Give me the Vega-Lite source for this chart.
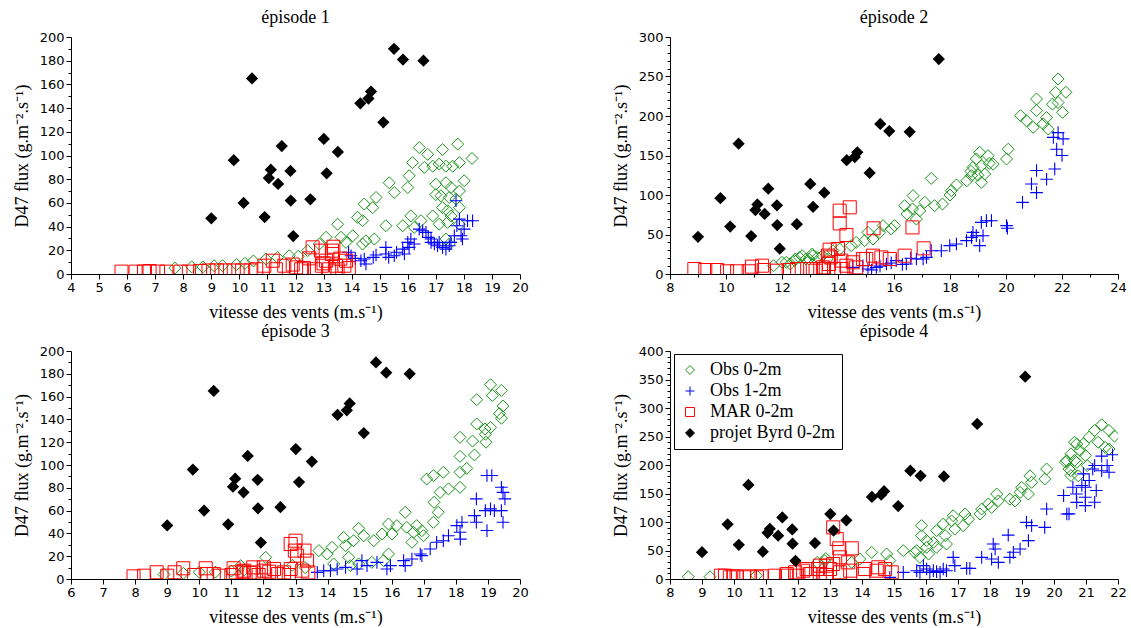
{
"$schema":"https://vega.github.io/schema/vega-lite/v6.json",
"background":"white",
"padding":{"left":13,"top":9,"right":0,"bottom":0},
"columns":2,
"bounds":"flush",
"spacing":{"row":77,"column":150},
"datasets":{
"byrd":[
{"s":"projet Byrd 0-2m","x":9.0,"y":47},{"s":"projet Byrd 0-2m","x":9.8,"y":96},{"s":"projet Byrd 0-2m","x":10.45,"y":165},{"s":"projet Byrd 0-2m","x":10.15,"y":60},{"s":"projet Byrd 0-2m","x":10.9,"y":48},{"s":"projet Byrd 0-2m","x":11.05,"y":81},{"s":"projet Byrd 0-2m","x":11.12,"y":88},{"s":"projet Byrd 0-2m","x":11.38,"y":76},{"s":"projet Byrd 0-2m","x":11.51,"y":108},{"s":"projet Byrd 0-2m","x":11.82,"y":87},{"s":"projet Byrd 0-2m","x":11.83,"y":62},{"s":"projet Byrd 0-2m","x":11.92,"y":32},{"s":"projet Byrd 0-2m","x":12.53,"y":63},{"s":"projet Byrd 0-2m","x":13.01,"y":114},{"s":"projet Byrd 0-2m","x":13.11,"y":85},{"s":"projet Byrd 0-2m","x":13.51,"y":103},{"s":"projet Byrd 0-2m","x":14.31,"y":144},{"s":"projet Byrd 0-2m","x":14.6,"y":148},{"s":"projet Byrd 0-2m","x":14.69,"y":154},{"s":"projet Byrd 0-2m","x":15.13,"y":128},{"s":"projet Byrd 0-2m","x":15.51,"y":190},{"s":"projet Byrd 0-2m","x":15.83,"y":181},{"s":"projet Byrd 0-2m","x":16.56,"y":180},{"s":"projet Byrd 0-2m","x":17.6,"y":272},{"s":"projet Byrd 0-2m","x":19.1,"y":355}
],
"pts":[
{"ep":1,"s":"Obs 0-2m","x":7.7,"y":5},{"ep":1,"s":"Obs 0-2m","x":8.3,"y":6},{"ep":1,"s":"Obs 0-2m","x":8.7,"y":6},{"ep":1,"s":"Obs 0-2m","x":9.1,"y":7},{"ep":1,"s":"Obs 0-2m","x":9.4,"y":7},{"ep":1,"s":"Obs 0-2m","x":9.9,"y":8},{"ep":1,"s":"Obs 0-2m","x":10.2,"y":9},{"ep":1,"s":"Obs 0-2m","x":10.5,"y":11},{"ep":1,"s":"Obs 0-2m","x":10.95,"y":12.6},{"ep":1,"s":"Obs 0-2m","x":11.36,"y":14},{"ep":1,"s":"Obs 0-2m","x":11.78,"y":15.4},{"ep":1,"s":"Obs 0-2m","x":12.1,"y":15},{"ep":1,"s":"Obs 0-2m","x":12.43,"y":19.7},{"ep":1,"s":"Obs 0-2m","x":12.85,"y":25.3},{"ep":1,"s":"Obs 0-2m","x":13.09,"y":31},{"ep":1,"s":"Obs 0-2m","x":13.5,"y":42},{"ep":1,"s":"Obs 0-2m","x":13.62,"y":31},{"ep":1,"s":"Obs 0-2m","x":13.8,"y":26.7},{"ep":1,"s":"Obs 0-2m","x":14.04,"y":32.3},{"ep":1,"s":"Obs 0-2m","x":14.21,"y":47.8},{"ep":1,"s":"Obs 0-2m","x":14.39,"y":45},{"ep":1,"s":"Obs 0-2m","x":14.39,"y":25.3},{"ep":1,"s":"Obs 0-2m","x":14.45,"y":59},{"ep":1,"s":"Obs 0-2m","x":14.51,"y":28},{"ep":1,"s":"Obs 0-2m","x":14.75,"y":56},{"ep":1,"s":"Obs 0-2m","x":14.81,"y":29.5},{"ep":1,"s":"Obs 0-2m","x":14.87,"y":64.6},{"ep":1,"s":"Obs 0-2m","x":15.22,"y":40.7},{"ep":1,"s":"Obs 0-2m","x":15.34,"y":77},{"ep":1,"s":"Obs 0-2m","x":15.52,"y":68.8},{"ep":1,"s":"Obs 0-2m","x":15.82,"y":40.7},{"ep":1,"s":"Obs 0-2m","x":16.0,"y":73},{"ep":1,"s":"Obs 0-2m","x":16.05,"y":82.9},{"ep":1,"s":"Obs 0-2m","x":16.11,"y":49},{"ep":1,"s":"Obs 0-2m","x":16.17,"y":94},{"ep":1,"s":"Obs 0-2m","x":16.23,"y":39.3},{"ep":1,"s":"Obs 0-2m","x":16.41,"y":106.7},{"ep":1,"s":"Obs 0-2m","x":16.47,"y":45},{"ep":1,"s":"Obs 0-2m","x":16.59,"y":90},{"ep":1,"s":"Obs 0-2m","x":16.71,"y":101},{"ep":1,"s":"Obs 0-2m","x":16.89,"y":91},{"ep":1,"s":"Obs 0-2m","x":16.89,"y":49},{"ep":1,"s":"Obs 0-2m","x":17.0,"y":75.8},{"ep":1,"s":"Obs 0-2m","x":17.0,"y":67},{"ep":1,"s":"Obs 0-2m","x":17.12,"y":92.7},{"ep":1,"s":"Obs 0-2m","x":17.12,"y":42},{"ep":1,"s":"Obs 0-2m","x":17.18,"y":66},{"ep":1,"s":"Obs 0-2m","x":17.24,"y":105},{"ep":1,"s":"Obs 0-2m","x":17.24,"y":56},{"ep":1,"s":"Obs 0-2m","x":17.36,"y":91},{"ep":1,"s":"Obs 0-2m","x":17.36,"y":77},{"ep":1,"s":"Obs 0-2m","x":17.36,"y":29.5},{"ep":1,"s":"Obs 0-2m","x":17.42,"y":53.4},{"ep":1,"s":"Obs 0-2m","x":17.42,"y":43.5},{"ep":1,"s":"Obs 0-2m","x":17.48,"y":64.6},{"ep":1,"s":"Obs 0-2m","x":17.48,"y":25.3},{"ep":1,"s":"Obs 0-2m","x":17.54,"y":73},{"ep":1,"s":"Obs 0-2m","x":17.54,"y":49},{"ep":1,"s":"Obs 0-2m","x":17.6,"y":91},{"ep":1,"s":"Obs 0-2m","x":17.72,"y":63.2},{"ep":1,"s":"Obs 0-2m","x":17.78,"y":109.6},{"ep":1,"s":"Obs 0-2m","x":17.84,"y":94},{"ep":1,"s":"Obs 0-2m","x":17.84,"y":70},{"ep":1,"s":"Obs 0-2m","x":17.84,"y":56},{"ep":1,"s":"Obs 0-2m","x":17.84,"y":42},{"ep":1,"s":"Obs 0-2m","x":18.01,"y":78.7},{"ep":1,"s":"Obs 0-2m","x":18.29,"y":97.5},
{"ep":1,"s":"Obs 1-2m","x":13.89,"y":18.3},{"ep":1,"s":"Obs 1-2m","x":13.98,"y":15.4},{"ep":1,"s":"Obs 1-2m","x":14.13,"y":13.2},{"ep":1,"s":"Obs 1-2m","x":14.33,"y":11.2},{"ep":1,"s":"Obs 1-2m","x":14.45,"y":12.6},{"ep":1,"s":"Obs 1-2m","x":14.51,"y":8.4},{"ep":1,"s":"Obs 1-2m","x":14.77,"y":14},{"ep":1,"s":"Obs 1-2m","x":14.87,"y":16},{"ep":1,"s":"Obs 1-2m","x":15.22,"y":22.5},{"ep":1,"s":"Obs 1-2m","x":15.22,"y":16.9},{"ep":1,"s":"Obs 1-2m","x":15.32,"y":14},{"ep":1,"s":"Obs 1-2m","x":15.52,"y":15.4},{"ep":1,"s":"Obs 1-2m","x":15.6,"y":18.3},{"ep":1,"s":"Obs 1-2m","x":15.82,"y":21},{"ep":1,"s":"Obs 1-2m","x":15.88,"y":16.9},{"ep":1,"s":"Obs 1-2m","x":16.0,"y":26.7},{"ep":1,"s":"Obs 1-2m","x":16.11,"y":29.5},{"ep":1,"s":"Obs 1-2m","x":16.05,"y":22.5},{"ep":1,"s":"Obs 1-2m","x":16.23,"y":25.3},{"ep":1,"s":"Obs 1-2m","x":16.41,"y":37.9},{"ep":1,"s":"Obs 1-2m","x":16.53,"y":36.5},{"ep":1,"s":"Obs 1-2m","x":16.65,"y":35.1},{"ep":1,"s":"Obs 1-2m","x":16.73,"y":30.9},{"ep":1,"s":"Obs 1-2m","x":16.83,"y":29.5},{"ep":1,"s":"Obs 1-2m","x":16.83,"y":26.7},{"ep":1,"s":"Obs 1-2m","x":16.95,"y":25.3},{"ep":1,"s":"Obs 1-2m","x":17.06,"y":23.9},{"ep":1,"s":"Obs 1-2m","x":17.12,"y":26.7},{"ep":1,"s":"Obs 1-2m","x":17.24,"y":22.5},{"ep":1,"s":"Obs 1-2m","x":17.36,"y":21},{"ep":1,"s":"Obs 1-2m","x":17.48,"y":23.9},{"ep":1,"s":"Obs 1-2m","x":17.54,"y":26.7},{"ep":1,"s":"Obs 1-2m","x":17.66,"y":32.3},{"ep":1,"s":"Obs 1-2m","x":17.72,"y":61.8},{"ep":1,"s":"Obs 1-2m","x":17.75,"y":40.7},{"ep":1,"s":"Obs 1-2m","x":17.84,"y":46.3},{"ep":1,"s":"Obs 1-2m","x":17.9,"y":32.3},{"ep":1,"s":"Obs 1-2m","x":17.95,"y":29.5},{"ep":1,"s":"Obs 1-2m","x":18.01,"y":37.9},{"ep":1,"s":"Obs 1-2m","x":18.13,"y":44.9},{"ep":1,"s":"Obs 1-2m","x":18.31,"y":44.9},
{"ep":1,"s":"MAR 0-2m","x":5.8,"y":2},{"ep":1,"s":"MAR 0-2m","x":6.3,"y":2},{"ep":1,"s":"MAR 0-2m","x":6.6,"y":2},{"ep":1,"s":"MAR 0-2m","x":6.8,"y":2.5},{"ep":1,"s":"MAR 0-2m","x":7.1,"y":2},{"ep":1,"s":"MAR 0-2m","x":7.4,"y":2},{"ep":1,"s":"MAR 0-2m","x":7.9,"y":2},{"ep":1,"s":"MAR 0-2m","x":8.2,"y":2},{"ep":1,"s":"MAR 0-2m","x":8.6,"y":2.5},{"ep":1,"s":"MAR 0-2m","x":8.9,"y":3},{"ep":1,"s":"MAR 0-2m","x":9.2,"y":3},{"ep":1,"s":"MAR 0-2m","x":9.5,"y":3},{"ep":1,"s":"MAR 0-2m","x":9.8,"y":3},{"ep":1,"s":"MAR 0-2m","x":10.1,"y":3},{"ep":1,"s":"MAR 0-2m","x":10.4,"y":3},{"ep":1,"s":"MAR 0-2m","x":10.6,"y":4},{"ep":1,"s":"MAR 0-2m","x":10.89,"y":7},{"ep":1,"s":"MAR 0-2m","x":11.19,"y":11.2},{"ep":1,"s":"MAR 0-2m","x":11.3,"y":4},{"ep":1,"s":"MAR 0-2m","x":11.6,"y":7},{"ep":1,"s":"MAR 0-2m","x":11.9,"y":8},{"ep":1,"s":"MAR 0-2m","x":12.02,"y":5.6},{"ep":1,"s":"MAR 0-2m","x":12.3,"y":5},{"ep":1,"s":"MAR 0-2m","x":12.49,"y":13.2},{"ep":1,"s":"MAR 0-2m","x":12.61,"y":22.5},{"ep":1,"s":"MAR 0-2m","x":12.91,"y":19.7},{"ep":1,"s":"MAR 0-2m","x":12.94,"y":7},{"ep":1,"s":"MAR 0-2m","x":13.0,"y":9},{"ep":1,"s":"MAR 0-2m","x":13.09,"y":11.2},{"ep":1,"s":"MAR 0-2m","x":13.3,"y":19.7},{"ep":1,"s":"MAR 0-2m","x":13.35,"y":23},{"ep":1,"s":"MAR 0-2m","x":13.3,"y":16.9},{"ep":1,"s":"MAR 0-2m","x":13.44,"y":7},{"ep":1,"s":"MAR 0-2m","x":13.5,"y":4},{"ep":1,"s":"MAR 0-2m","x":13.74,"y":7},{"ep":1,"s":"MAR 0-2m","x":13.8,"y":11.2},{"ep":1,"s":"MAR 0-2m","x":13.9,"y":5},{"ep":1,"s":"MAR 0-2m","x":13.6,"y":13},{"ep":1,"s":"MAR 0-2m","x":12.2,"y":4},{"ep":1,"s":"MAR 0-2m","x":12.7,"y":4},{"ep":1,"s":"MAR 0-2m","x":13.2,"y":4},
{"ep":2,"s":"Obs 0-2m","x":11.7,"y":10.5},{"ep":2,"s":"Obs 0-2m","x":12.0,"y":14.8},{"ep":2,"s":"Obs 0-2m","x":12.15,"y":14.8},{"ep":2,"s":"Obs 0-2m","x":12.3,"y":12.7},{"ep":2,"s":"Obs 0-2m","x":12.45,"y":16.9},{"ep":2,"s":"Obs 0-2m","x":12.48,"y":19},{"ep":2,"s":"Obs 0-2m","x":12.63,"y":21},{"ep":2,"s":"Obs 0-2m","x":12.72,"y":23.2},{"ep":2,"s":"Obs 0-2m","x":12.86,"y":19},{"ep":2,"s":"Obs 0-2m","x":12.96,"y":19},{"ep":2,"s":"Obs 0-2m","x":13.08,"y":25.3},{"ep":2,"s":"Obs 0-2m","x":13.1,"y":23.2},{"ep":2,"s":"Obs 0-2m","x":13.26,"y":21},{"ep":2,"s":"Obs 0-2m","x":13.44,"y":23.2},{"ep":2,"s":"Obs 0-2m","x":13.62,"y":19},{"ep":2,"s":"Obs 0-2m","x":13.82,"y":29.5},{"ep":2,"s":"Obs 0-2m","x":14.06,"y":31.6},{"ep":2,"s":"Obs 0-2m","x":14.47,"y":35.9},{"ep":2,"s":"Obs 0-2m","x":14.65,"y":40},{"ep":2,"s":"Obs 0-2m","x":14.95,"y":42.2},{"ep":2,"s":"Obs 0-2m","x":15.07,"y":52.7},{"ep":2,"s":"Obs 0-2m","x":15.25,"y":44.3},{"ep":2,"s":"Obs 0-2m","x":15.49,"y":52.7},{"ep":2,"s":"Obs 0-2m","x":15.61,"y":61.2},{"ep":2,"s":"Obs 0-2m","x":15.9,"y":57},{"ep":2,"s":"Obs 0-2m","x":16.02,"y":61.2},{"ep":2,"s":"Obs 0-2m","x":16.38,"y":86.5},{"ep":2,"s":"Obs 0-2m","x":16.46,"y":75.9},{"ep":2,"s":"Obs 0-2m","x":16.66,"y":82.3},{"ep":2,"s":"Obs 0-2m","x":16.68,"y":99.2},{"ep":2,"s":"Obs 0-2m","x":16.8,"y":69.6},{"ep":2,"s":"Obs 0-2m","x":16.92,"y":80},{"ep":2,"s":"Obs 0-2m","x":17.1,"y":90.7},{"ep":2,"s":"Obs 0-2m","x":17.33,"y":121},{"ep":2,"s":"Obs 0-2m","x":17.45,"y":86.5},{"ep":2,"s":"Obs 0-2m","x":17.73,"y":88.6},{"ep":2,"s":"Obs 0-2m","x":18.0,"y":100},{"ep":2,"s":"Obs 0-2m","x":18.05,"y":105.5},{"ep":2,"s":"Obs 0-2m","x":18.23,"y":112.7},{"ep":2,"s":"Obs 0-2m","x":18.6,"y":118},{"ep":2,"s":"Obs 0-2m","x":18.75,"y":130},{"ep":2,"s":"Obs 0-2m","x":18.77,"y":124.5},{"ep":2,"s":"Obs 0-2m","x":18.82,"y":135},{"ep":2,"s":"Obs 0-2m","x":18.94,"y":145.6},{"ep":2,"s":"Obs 0-2m","x":19.0,"y":125},{"ep":2,"s":"Obs 0-2m","x":19.06,"y":154},{"ep":2,"s":"Obs 0-2m","x":19.12,"y":137},{"ep":2,"s":"Obs 0-2m","x":19.12,"y":116},{"ep":2,"s":"Obs 0-2m","x":19.24,"y":126.6},{"ep":2,"s":"Obs 0-2m","x":19.36,"y":149.8},{"ep":2,"s":"Obs 0-2m","x":19.4,"y":140},{"ep":2,"s":"Obs 0-2m","x":19.54,"y":139},{"ep":2,"s":"Obs 0-2m","x":20.02,"y":145.6},{"ep":2,"s":"Obs 0-2m","x":20.08,"y":158},{"ep":2,"s":"Obs 0-2m","x":20.52,"y":200.4},{"ep":2,"s":"Obs 0-2m","x":20.73,"y":194},{"ep":2,"s":"Obs 0-2m","x":20.97,"y":185.7},{"ep":2,"s":"Obs 0-2m","x":21.09,"y":221.5},{"ep":2,"s":"Obs 0-2m","x":21.09,"y":206.8},{"ep":2,"s":"Obs 0-2m","x":21.33,"y":190},{"ep":2,"s":"Obs 0-2m","x":21.45,"y":198},{"ep":2,"s":"Obs 0-2m","x":21.51,"y":183.5},{"ep":2,"s":"Obs 0-2m","x":21.66,"y":215},{"ep":2,"s":"Obs 0-2m","x":21.77,"y":230},{"ep":2,"s":"Obs 0-2m","x":21.86,"y":246.8},{"ep":2,"s":"Obs 0-2m","x":21.86,"y":217},{"ep":2,"s":"Obs 0-2m","x":22.02,"y":204.6},{"ep":2,"s":"Obs 0-2m","x":22.14,"y":230},
{"ep":2,"s":"Obs 1-2m","x":14.53,"y":8.4},{"ep":2,"s":"Obs 1-2m","x":14.89,"y":10.5},{"ep":2,"s":"Obs 1-2m","x":15.07,"y":6.3},{"ep":2,"s":"Obs 1-2m","x":15.2,"y":5},{"ep":2,"s":"Obs 1-2m","x":15.37,"y":8.4},{"ep":2,"s":"Obs 1-2m","x":15.5,"y":10},{"ep":2,"s":"Obs 1-2m","x":15.73,"y":12.7},{"ep":2,"s":"Obs 1-2m","x":15.9,"y":14},{"ep":2,"s":"Obs 1-2m","x":16.08,"y":16.9},{"ep":2,"s":"Obs 1-2m","x":16.3,"y":12},{"ep":2,"s":"Obs 1-2m","x":16.44,"y":12.7},{"ep":2,"s":"Obs 1-2m","x":16.6,"y":20},{"ep":2,"s":"Obs 1-2m","x":16.8,"y":19},{"ep":2,"s":"Obs 1-2m","x":17.04,"y":19},{"ep":2,"s":"Obs 1-2m","x":17.16,"y":21},{"ep":2,"s":"Obs 1-2m","x":17.33,"y":29.5},{"ep":2,"s":"Obs 1-2m","x":17.69,"y":29.5},{"ep":2,"s":"Obs 1-2m","x":17.99,"y":35.9},{"ep":2,"s":"Obs 1-2m","x":18.23,"y":38},{"ep":2,"s":"Obs 1-2m","x":18.59,"y":42.2},{"ep":2,"s":"Obs 1-2m","x":18.77,"y":46.4},{"ep":2,"s":"Obs 1-2m","x":18.82,"y":52.7},{"ep":2,"s":"Obs 1-2m","x":18.94,"y":48.5},{"ep":2,"s":"Obs 1-2m","x":19.06,"y":35.9},{"ep":2,"s":"Obs 1-2m","x":19.12,"y":65.4},{"ep":2,"s":"Obs 1-2m","x":19.18,"y":48.5},{"ep":2,"s":"Obs 1-2m","x":19.3,"y":67.5},{"ep":2,"s":"Obs 1-2m","x":19.48,"y":67.5},{"ep":2,"s":"Obs 1-2m","x":20.02,"y":61.2},{"ep":2,"s":"Obs 1-2m","x":20.05,"y":58},{"ep":2,"s":"Obs 1-2m","x":20.59,"y":90.7},{"ep":2,"s":"Obs 1-2m","x":20.91,"y":114},{"ep":2,"s":"Obs 1-2m","x":21.09,"y":103},{"ep":2,"s":"Obs 1-2m","x":21.09,"y":131},{"ep":2,"s":"Obs 1-2m","x":21.45,"y":120},{"ep":2,"s":"Obs 1-2m","x":21.74,"y":133},{"ep":2,"s":"Obs 1-2m","x":21.69,"y":173},{"ep":2,"s":"Obs 1-2m","x":21.81,"y":158},{"ep":2,"s":"Obs 1-2m","x":21.86,"y":179},{"ep":2,"s":"Obs 1-2m","x":22.0,"y":150},{"ep":2,"s":"Obs 1-2m","x":22.04,"y":171},
{"ep":2,"s":"MAR 0-2m","x":8.87,"y":6.3},{"ep":2,"s":"MAR 0-2m","x":9.26,"y":5},{"ep":2,"s":"MAR 0-2m","x":9.68,"y":5},{"ep":2,"s":"MAR 0-2m","x":10.04,"y":3.4},{"ep":2,"s":"MAR 0-2m","x":10.4,"y":3.4},{"ep":2,"s":"MAR 0-2m","x":10.81,"y":3.4},{"ep":2,"s":"MAR 0-2m","x":10.93,"y":9.3},{"ep":2,"s":"MAR 0-2m","x":11.29,"y":10.5},{"ep":2,"s":"MAR 0-2m","x":11.35,"y":5},{"ep":2,"s":"MAR 0-2m","x":11.82,"y":4.2},{"ep":2,"s":"MAR 0-2m","x":12.24,"y":5},{"ep":2,"s":"MAR 0-2m","x":12.54,"y":6.3},{"ep":2,"s":"MAR 0-2m","x":12.9,"y":6.3},{"ep":2,"s":"MAR 0-2m","x":13.1,"y":6.3},{"ep":2,"s":"MAR 0-2m","x":13.2,"y":4.2},{"ep":2,"s":"MAR 0-2m","x":13.46,"y":8.4},{"ep":2,"s":"MAR 0-2m","x":13.5,"y":6.3},{"ep":2,"s":"MAR 0-2m","x":13.64,"y":23.2},{"ep":2,"s":"MAR 0-2m","x":13.68,"y":12.7},{"ep":2,"s":"MAR 0-2m","x":13.7,"y":30.8},{"ep":2,"s":"MAR 0-2m","x":13.74,"y":21},{"ep":2,"s":"MAR 0-2m","x":13.86,"y":6.3},{"ep":2,"s":"MAR 0-2m","x":14.0,"y":31.6},{"ep":2,"s":"MAR 0-2m","x":14.06,"y":80.2},{"ep":2,"s":"MAR 0-2m","x":14.06,"y":64},{"ep":2,"s":"MAR 0-2m","x":14.12,"y":16.9},{"ep":2,"s":"MAR 0-2m","x":14.12,"y":6.3},{"ep":2,"s":"MAR 0-2m","x":14.3,"y":49.4},{"ep":2,"s":"MAR 0-2m","x":14.3,"y":10.5},{"ep":2,"s":"MAR 0-2m","x":14.42,"y":84.4},{"ep":2,"s":"MAR 0-2m","x":14.53,"y":14.8},{"ep":2,"s":"MAR 0-2m","x":14.65,"y":8.4},{"ep":2,"s":"MAR 0-2m","x":14.89,"y":19},{"ep":2,"s":"MAR 0-2m","x":15.01,"y":19},{"ep":2,"s":"MAR 0-2m","x":15.25,"y":23.2},{"ep":2,"s":"MAR 0-2m","x":15.27,"y":57.8},{"ep":2,"s":"MAR 0-2m","x":15.55,"y":21},{"ep":2,"s":"MAR 0-2m","x":15.85,"y":19},{"ep":2,"s":"MAR 0-2m","x":16.38,"y":23.2},{"ep":2,"s":"MAR 0-2m","x":16.66,"y":59},{"ep":2,"s":"MAR 0-2m","x":17.06,"y":32.5},
{"ep":3,"s":"Obs 0-2m","x":8.9,"y":4},{"ep":3,"s":"Obs 0-2m","x":9.5,"y":5},{"ep":3,"s":"Obs 0-2m","x":10.0,"y":6},{"ep":3,"s":"Obs 0-2m","x":10.5,"y":6},{"ep":3,"s":"Obs 0-2m","x":11.0,"y":7},{"ep":3,"s":"Obs 0-2m","x":11.29,"y":11.7},{"ep":3,"s":"Obs 0-2m","x":11.4,"y":8},{"ep":3,"s":"Obs 0-2m","x":12.07,"y":19},{"ep":3,"s":"Obs 0-2m","x":12.9,"y":12},{"ep":3,"s":"Obs 0-2m","x":13.3,"y":10},{"ep":3,"s":"Obs 0-2m","x":13.73,"y":24.9},{"ep":3,"s":"Obs 0-2m","x":13.99,"y":21.9},{"ep":3,"s":"Obs 0-2m","x":14.14,"y":27.8},{"ep":3,"s":"Obs 0-2m","x":14.19,"y":13.2},{"ep":3,"s":"Obs 0-2m","x":14.5,"y":36.5},{"ep":3,"s":"Obs 0-2m","x":14.56,"y":29.2},{"ep":3,"s":"Obs 0-2m","x":14.66,"y":19},{"ep":3,"s":"Obs 0-2m","x":14.71,"y":11.7},{"ep":3,"s":"Obs 0-2m","x":14.81,"y":33.6},{"ep":3,"s":"Obs 0-2m","x":14.97,"y":44.4},{"ep":3,"s":"Obs 0-2m","x":14.97,"y":13.2},{"ep":3,"s":"Obs 0-2m","x":15.13,"y":38},{"ep":3,"s":"Obs 0-2m","x":15.38,"y":14.6},{"ep":3,"s":"Obs 0-2m","x":15.44,"y":33.6},{"ep":3,"s":"Obs 0-2m","x":15.7,"y":39.5},{"ep":3,"s":"Obs 0-2m","x":15.75,"y":16.1},{"ep":3,"s":"Obs 0-2m","x":15.9,"y":48.2},{"ep":3,"s":"Obs 0-2m","x":15.9,"y":21.9},{"ep":3,"s":"Obs 0-2m","x":16.01,"y":39.5},{"ep":3,"s":"Obs 0-2m","x":16.16,"y":46.8},{"ep":3,"s":"Obs 0-2m","x":16.42,"y":58.5},{"ep":3,"s":"Obs 0-2m","x":16.47,"y":45.3},{"ep":3,"s":"Obs 0-2m","x":16.63,"y":32.2},{"ep":3,"s":"Obs 0-2m","x":16.68,"y":41},{"ep":3,"s":"Obs 0-2m","x":16.78,"y":46.8},{"ep":3,"s":"Obs 0-2m","x":16.94,"y":42.4},{"ep":3,"s":"Obs 0-2m","x":16.99,"y":38},{"ep":3,"s":"Obs 0-2m","x":17.09,"y":87.7},{"ep":3,"s":"Obs 0-2m","x":17.3,"y":90.6},{"ep":3,"s":"Obs 0-2m","x":17.3,"y":49.7},{"ep":3,"s":"Obs 0-2m","x":17.32,"y":67.3},{"ep":3,"s":"Obs 0-2m","x":17.45,"y":58.5},{"ep":3,"s":"Obs 0-2m","x":17.51,"y":76},{"ep":3,"s":"Obs 0-2m","x":17.61,"y":93.6},{"ep":3,"s":"Obs 0-2m","x":17.77,"y":79},{"ep":3,"s":"Obs 0-2m","x":18.13,"y":124.3},{"ep":3,"s":"Obs 0-2m","x":18.13,"y":107.6},{"ep":3,"s":"Obs 0-2m","x":18.13,"y":93.6},{"ep":3,"s":"Obs 0-2m","x":18.13,"y":80.4},{"ep":3,"s":"Obs 0-2m","x":18.34,"y":97},{"ep":3,"s":"Obs 0-2m","x":18.52,"y":121},{"ep":3,"s":"Obs 0-2m","x":18.58,"y":108.8},{"ep":3,"s":"Obs 0-2m","x":18.65,"y":157.3},{"ep":3,"s":"Obs 0-2m","x":18.65,"y":136},{"ep":3,"s":"Obs 0-2m","x":18.91,"y":131.6},{"ep":3,"s":"Obs 0-2m","x":18.92,"y":127},{"ep":3,"s":"Obs 0-2m","x":18.94,"y":120},{"ep":3,"s":"Obs 0-2m","x":19.08,"y":170.4},{"ep":3,"s":"Obs 0-2m","x":19.08,"y":133},{"ep":3,"s":"Obs 0-2m","x":19.14,"y":161},{"ep":3,"s":"Obs 0-2m","x":19.36,"y":145},{"ep":3,"s":"Obs 0-2m","x":19.42,"y":165.4},{"ep":3,"s":"Obs 0-2m","x":19.42,"y":141},{"ep":3,"s":"Obs 0-2m","x":19.47,"y":151.7},
{"ep":3,"s":"Obs 1-2m","x":13.68,"y":5.8},{"ep":3,"s":"Obs 1-2m","x":13.88,"y":7.3},{"ep":3,"s":"Obs 1-2m","x":14.09,"y":7.3},{"ep":3,"s":"Obs 1-2m","x":14.3,"y":8.8},{"ep":3,"s":"Obs 1-2m","x":14.56,"y":10.2},{"ep":3,"s":"Obs 1-2m","x":14.92,"y":8.8},{"ep":3,"s":"Obs 1-2m","x":15.07,"y":16.1},{"ep":3,"s":"Obs 1-2m","x":15.23,"y":11.7},{"ep":3,"s":"Obs 1-2m","x":15.54,"y":14.6},{"ep":3,"s":"Obs 1-2m","x":15.85,"y":8.8},{"ep":3,"s":"Obs 1-2m","x":15.96,"y":11.7},{"ep":3,"s":"Obs 1-2m","x":16.37,"y":16.1},{"ep":3,"s":"Obs 1-2m","x":16.42,"y":11.7},{"ep":3,"s":"Obs 1-2m","x":16.63,"y":17.5},{"ep":3,"s":"Obs 1-2m","x":16.89,"y":21.9},{"ep":3,"s":"Obs 1-2m","x":16.94,"y":20.5},{"ep":3,"s":"Obs 1-2m","x":17.2,"y":26.3},{"ep":3,"s":"Obs 1-2m","x":17.4,"y":32.2},{"ep":3,"s":"Obs 1-2m","x":17.61,"y":33.6},{"ep":3,"s":"Obs 1-2m","x":17.77,"y":38},{"ep":3,"s":"Obs 1-2m","x":18.03,"y":46.8},{"ep":3,"s":"Obs 1-2m","x":18.13,"y":41},{"ep":3,"s":"Obs 1-2m","x":18.14,"y":35},{"ep":3,"s":"Obs 1-2m","x":18.19,"y":49.8},{"ep":3,"s":"Obs 1-2m","x":18.58,"y":55.6},{"ep":3,"s":"Obs 1-2m","x":18.64,"y":70.3},{"ep":3,"s":"Obs 1-2m","x":18.64,"y":49.8},{"ep":3,"s":"Obs 1-2m","x":18.92,"y":60},{"ep":3,"s":"Obs 1-2m","x":18.97,"y":42.5},{"ep":3,"s":"Obs 1-2m","x":18.97,"y":90.8},{"ep":3,"s":"Obs 1-2m","x":19.08,"y":61.5},{"ep":3,"s":"Obs 1-2m","x":19.12,"y":90.8},{"ep":3,"s":"Obs 1-2m","x":19.2,"y":60},{"ep":3,"s":"Obs 1-2m","x":19.42,"y":80.5},{"ep":3,"s":"Obs 1-2m","x":19.42,"y":60},{"ep":3,"s":"Obs 1-2m","x":19.47,"y":76},{"ep":3,"s":"Obs 1-2m","x":19.47,"y":49.8},{"ep":3,"s":"Obs 1-2m","x":19.53,"y":70.3},
{"ep":3,"s":"MAR 0-2m","x":7.95,"y":2.3},{"ep":3,"s":"MAR 0-2m","x":8.28,"y":2.9},{"ep":3,"s":"MAR 0-2m","x":8.67,"y":5.9},{"ep":3,"s":"MAR 0-2m","x":9.0,"y":2.9},{"ep":3,"s":"MAR 0-2m","x":9.23,"y":5.9},{"ep":3,"s":"MAR 0-2m","x":9.5,"y":9.4},{"ep":3,"s":"MAR 0-2m","x":9.84,"y":3.5},{"ep":3,"s":"MAR 0-2m","x":10.2,"y":9.4},{"ep":3,"s":"MAR 0-2m","x":10.23,"y":4.4},{"ep":3,"s":"MAR 0-2m","x":10.45,"y":4.4},{"ep":3,"s":"MAR 0-2m","x":10.65,"y":2.9},{"ep":3,"s":"MAR 0-2m","x":11.0,"y":3.5},{"ep":3,"s":"MAR 0-2m","x":11.07,"y":9.4},{"ep":3,"s":"MAR 0-2m","x":11.14,"y":5.8},{"ep":3,"s":"MAR 0-2m","x":11.35,"y":6.4},{"ep":3,"s":"MAR 0-2m","x":11.4,"y":7.3},{"ep":3,"s":"MAR 0-2m","x":11.57,"y":5.3},{"ep":3,"s":"MAR 0-2m","x":11.68,"y":10.2},{"ep":3,"s":"MAR 0-2m","x":11.71,"y":5.8},{"ep":3,"s":"MAR 0-2m","x":11.85,"y":3.5},{"ep":3,"s":"MAR 0-2m","x":12.01,"y":10.2},{"ep":3,"s":"MAR 0-2m","x":12.02,"y":7.3},{"ep":3,"s":"MAR 0-2m","x":12.18,"y":6.4},{"ep":3,"s":"MAR 0-2m","x":12.33,"y":8.8},{"ep":3,"s":"MAR 0-2m","x":12.46,"y":4.4},{"ep":3,"s":"MAR 0-2m","x":12.64,"y":5.8},{"ep":3,"s":"MAR 0-2m","x":12.79,"y":3.5},{"ep":3,"s":"MAR 0-2m","x":12.85,"y":8.8},{"ep":3,"s":"MAR 0-2m","x":12.85,"y":30.7},{"ep":3,"s":"MAR 0-2m","x":12.98,"y":24.9},{"ep":3,"s":"MAR 0-2m","x":13.0,"y":33.6},{"ep":3,"s":"MAR 0-2m","x":13.05,"y":20.5},{"ep":3,"s":"MAR 0-2m","x":13.21,"y":7.3},{"ep":3,"s":"MAR 0-2m","x":13.28,"y":24.9},{"ep":3,"s":"MAR 0-2m","x":13.36,"y":16.1},{"ep":3,"s":"MAR 0-2m","x":13.4,"y":5.8},
{"ep":4,"s":"Obs 0-2m","x":8.57,"y":4},{"ep":4,"s":"Obs 0-2m","x":9.25,"y":4},{"ep":4,"s":"Obs 0-2m","x":10.7,"y":6},{"ep":4,"s":"Obs 0-2m","x":12.6,"y":29},{"ep":4,"s":"Obs 0-2m","x":12.84,"y":32.2},{"ep":4,"s":"Obs 0-2m","x":12.87,"y":36},{"ep":4,"s":"Obs 0-2m","x":13.68,"y":29.2},{"ep":4,"s":"Obs 0-2m","x":13.93,"y":35},{"ep":4,"s":"Obs 0-2m","x":14.3,"y":46.8},{"ep":4,"s":"Obs 0-2m","x":14.77,"y":43.9},{"ep":4,"s":"Obs 0-2m","x":14.87,"y":32.2},{"ep":4,"s":"Obs 0-2m","x":15.29,"y":49.7},{"ep":4,"s":"Obs 0-2m","x":15.65,"y":46.8},{"ep":4,"s":"Obs 0-2m","x":15.71,"y":49.7},{"ep":4,"s":"Obs 0-2m","x":15.81,"y":38},{"ep":4,"s":"Obs 0-2m","x":15.86,"y":93.6},{"ep":4,"s":"Obs 0-2m","x":15.86,"y":76},{"ep":4,"s":"Obs 0-2m","x":16.02,"y":67.3},{"ep":4,"s":"Obs 0-2m","x":16.02,"y":55.6},{"ep":4,"s":"Obs 0-2m","x":16.08,"y":43.9},{"ep":4,"s":"Obs 0-2m","x":16.23,"y":64.3},{"ep":4,"s":"Obs 0-2m","x":16.33,"y":84.8},{"ep":4,"s":"Obs 0-2m","x":16.33,"y":55.6},{"ep":4,"s":"Obs 0-2m","x":16.54,"y":96.5},{"ep":4,"s":"Obs 0-2m","x":16.6,"y":76},{"ep":4,"s":"Obs 0-2m","x":16.64,"y":61.4},{"ep":4,"s":"Obs 0-2m","x":16.8,"y":102},{"ep":4,"s":"Obs 0-2m","x":16.85,"y":111},{"ep":4,"s":"Obs 0-2m","x":16.9,"y":87.7},{"ep":4,"s":"Obs 0-2m","x":17.16,"y":93.6},{"ep":4,"s":"Obs 0-2m","x":17.22,"y":114},{"ep":4,"s":"Obs 0-2m","x":17.33,"y":105},{"ep":4,"s":"Obs 0-2m","x":17.69,"y":114},{"ep":4,"s":"Obs 0-2m","x":17.74,"y":122.8},{"ep":4,"s":"Obs 0-2m","x":17.95,"y":131.6},{"ep":4,"s":"Obs 0-2m","x":18.05,"y":125.7},{"ep":4,"s":"Obs 0-2m","x":18.21,"y":149},{"ep":4,"s":"Obs 0-2m","x":18.26,"y":137},{"ep":4,"s":"Obs 0-2m","x":18.62,"y":140},{"ep":4,"s":"Obs 0-2m","x":18.78,"y":137},{"ep":4,"s":"Obs 0-2m","x":18.94,"y":152},{"ep":4,"s":"Obs 0-2m","x":18.99,"y":160.8},{"ep":4,"s":"Obs 0-2m","x":19.2,"y":149},{"ep":4,"s":"Obs 0-2m","x":19.25,"y":181},{"ep":4,"s":"Obs 0-2m","x":19.3,"y":169.6},{"ep":4,"s":"Obs 0-2m","x":19.71,"y":175.4},{"ep":4,"s":"Obs 0-2m","x":19.77,"y":193},{"ep":4,"s":"Obs 0-2m","x":20.36,"y":205},{"ep":4,"s":"Obs 0-2m","x":20.4,"y":207.6},{"ep":4,"s":"Obs 0-2m","x":20.47,"y":193},{"ep":4,"s":"Obs 0-2m","x":20.52,"y":190},{"ep":4,"s":"Obs 0-2m","x":20.53,"y":219.6},{"ep":4,"s":"Obs 0-2m","x":20.53,"y":181.5},{"ep":4,"s":"Obs 0-2m","x":20.64,"y":240},{"ep":4,"s":"Obs 0-2m","x":20.64,"y":208},{"ep":4,"s":"Obs 0-2m","x":20.71,"y":236.8},{"ep":4,"s":"Obs 0-2m","x":20.71,"y":204.7},{"ep":4,"s":"Obs 0-2m","x":20.76,"y":181},{"ep":4,"s":"Obs 0-2m","x":20.81,"y":225.5},{"ep":4,"s":"Obs 0-2m","x":20.92,"y":237.2},{"ep":4,"s":"Obs 0-2m","x":20.98,"y":216.7},{"ep":4,"s":"Obs 0-2m","x":21.04,"y":199},{"ep":4,"s":"Obs 0-2m","x":21.1,"y":249},{"ep":4,"s":"Obs 0-2m","x":21.27,"y":260.6},{"ep":4,"s":"Obs 0-2m","x":21.38,"y":240},{"ep":4,"s":"Obs 0-2m","x":21.49,"y":270.6},{"ep":4,"s":"Obs 0-2m","x":21.6,"y":231},{"ep":4,"s":"Obs 0-2m","x":21.72,"y":260.6},{"ep":4,"s":"Obs 0-2m","x":21.72,"y":228},{"ep":4,"s":"Obs 0-2m","x":21.89,"y":250.7},
{"ep":4,"s":"Obs 1-2m","x":14.87,"y":2.9},{"ep":4,"s":"Obs 1-2m","x":15.29,"y":11.7},{"ep":4,"s":"Obs 1-2m","x":15.71,"y":14.6},{"ep":4,"s":"Obs 1-2m","x":15.81,"y":11.7},{"ep":4,"s":"Obs 1-2m","x":15.92,"y":23.4},{"ep":4,"s":"Obs 1-2m","x":16.02,"y":17.5},{"ep":4,"s":"Obs 1-2m","x":16.12,"y":11.7},{"ep":4,"s":"Obs 1-2m","x":16.23,"y":14.6},{"ep":4,"s":"Obs 1-2m","x":16.33,"y":12.9},{"ep":4,"s":"Obs 1-2m","x":16.44,"y":11.7},{"ep":4,"s":"Obs 1-2m","x":16.54,"y":17.5},{"ep":4,"s":"Obs 1-2m","x":16.64,"y":14.6},{"ep":4,"s":"Obs 1-2m","x":16.85,"y":38},{"ep":4,"s":"Obs 1-2m","x":16.9,"y":23.4},{"ep":4,"s":"Obs 1-2m","x":17.27,"y":18.7},{"ep":4,"s":"Obs 1-2m","x":17.37,"y":18.7},{"ep":4,"s":"Obs 1-2m","x":17.74,"y":38},{"ep":4,"s":"Obs 1-2m","x":18.05,"y":35},{"ep":4,"s":"Obs 1-2m","x":18.1,"y":61.4},{"ep":4,"s":"Obs 1-2m","x":18.16,"y":52.6},{"ep":4,"s":"Obs 1-2m","x":18.26,"y":29.2},{"ep":4,"s":"Obs 1-2m","x":18.57,"y":77},{"ep":4,"s":"Obs 1-2m","x":18.62,"y":38},{"ep":4,"s":"Obs 1-2m","x":18.73,"y":46.8},{"ep":4,"s":"Obs 1-2m","x":18.94,"y":52.6},{"ep":4,"s":"Obs 1-2m","x":19.14,"y":99.4},{"ep":4,"s":"Obs 1-2m","x":19.2,"y":67.3},{"ep":4,"s":"Obs 1-2m","x":19.3,"y":93.6},{"ep":4,"s":"Obs 1-2m","x":19.71,"y":90.6},{"ep":4,"s":"Obs 1-2m","x":19.77,"y":122.8},{"ep":4,"s":"Obs 1-2m","x":20.3,"y":146.4},{"ep":4,"s":"Obs 1-2m","x":20.4,"y":114},{"ep":4,"s":"Obs 1-2m","x":20.47,"y":114.2},{"ep":4,"s":"Obs 1-2m","x":20.59,"y":161},{"ep":4,"s":"Obs 1-2m","x":20.7,"y":149},{"ep":4,"s":"Obs 1-2m","x":20.71,"y":134.5},{"ep":4,"s":"Obs 1-2m","x":20.87,"y":164},{"ep":4,"s":"Obs 1-2m","x":20.92,"y":184.5},{"ep":4,"s":"Obs 1-2m","x":20.98,"y":161},{"ep":4,"s":"Obs 1-2m","x":20.98,"y":143.5},{"ep":4,"s":"Obs 1-2m","x":20.98,"y":128.8},{"ep":4,"s":"Obs 1-2m","x":21.1,"y":172.8},{"ep":4,"s":"Obs 1-2m","x":21.21,"y":193},{"ep":4,"s":"Obs 1-2m","x":21.27,"y":199},{"ep":4,"s":"Obs 1-2m","x":21.27,"y":134.7},{"ep":4,"s":"Obs 1-2m","x":21.32,"y":155.2},{"ep":4,"s":"Obs 1-2m","x":21.49,"y":215.5},{"ep":4,"s":"Obs 1-2m","x":21.49,"y":190},{"ep":4,"s":"Obs 1-2m","x":21.66,"y":199},{"ep":4,"s":"Obs 1-2m","x":21.72,"y":187.4},{"ep":4,"s":"Obs 1-2m","x":21.83,"y":217.9},
{"ep":4,"s":"MAR 0-2m","x":9.59,"y":5.9},{"ep":4,"s":"MAR 0-2m","x":9.72,"y":5.8},{"ep":4,"s":"MAR 0-2m","x":9.87,"y":2.9},{"ep":4,"s":"MAR 0-2m","x":9.98,"y":4.7},{"ep":4,"s":"MAR 0-2m","x":10.08,"y":4.7},{"ep":4,"s":"MAR 0-2m","x":10.32,"y":2.9},{"ep":4,"s":"MAR 0-2m","x":10.5,"y":4.7},{"ep":4,"s":"MAR 0-2m","x":10.72,"y":2.9},{"ep":4,"s":"MAR 0-2m","x":10.86,"y":4.7},{"ep":4,"s":"MAR 0-2m","x":11.28,"y":5.8},{"ep":4,"s":"MAR 0-2m","x":11.63,"y":5.9},{"ep":4,"s":"MAR 0-2m","x":11.65,"y":8.8},{"ep":4,"s":"MAR 0-2m","x":11.91,"y":11.7},{"ep":4,"s":"MAR 0-2m","x":11.96,"y":5.8},{"ep":4,"s":"MAR 0-2m","x":12.16,"y":14.6},{"ep":4,"s":"MAR 0-2m","x":12.27,"y":17.5},{"ep":4,"s":"MAR 0-2m","x":12.37,"y":8.8},{"ep":4,"s":"MAR 0-2m","x":12.42,"y":8.8},{"ep":4,"s":"MAR 0-2m","x":12.63,"y":17.5},{"ep":4,"s":"MAR 0-2m","x":12.68,"y":8.8},{"ep":4,"s":"MAR 0-2m","x":12.69,"y":23.4},{"ep":4,"s":"MAR 0-2m","x":12.88,"y":7},{"ep":4,"s":"MAR 0-2m","x":12.89,"y":23.4},{"ep":4,"s":"MAR 0-2m","x":13.0,"y":17.5},{"ep":4,"s":"MAR 0-2m","x":13.1,"y":90.6},{"ep":4,"s":"MAR 0-2m","x":13.1,"y":26.3},{"ep":4,"s":"MAR 0-2m","x":13.21,"y":70.2},{"ep":4,"s":"MAR 0-2m","x":13.29,"y":53.8},{"ep":4,"s":"MAR 0-2m","x":13.31,"y":38},{"ep":4,"s":"MAR 0-2m","x":13.31,"y":11.7},{"ep":4,"s":"MAR 0-2m","x":13.57,"y":29.2},{"ep":4,"s":"MAR 0-2m","x":13.63,"y":14.6},{"ep":4,"s":"MAR 0-2m","x":13.68,"y":53.8},{"ep":4,"s":"MAR 0-2m","x":14.04,"y":8.8},{"ep":4,"s":"MAR 0-2m","x":14.09,"y":17.5},{"ep":4,"s":"MAR 0-2m","x":14.46,"y":14.6},{"ep":4,"s":"MAR 0-2m","x":14.51,"y":20.5},{"ep":4,"s":"MAR 0-2m","x":14.72,"y":17.5},{"ep":4,"s":"MAR 0-2m","x":14.93,"y":11.7}
]},
"concat":[
{"width":449,"height":237,"title":{"text":"épisode 1"},
 "encoding":{
  "x":{"field":"x","type":"quantitative","scale":{"domain":[4,20],"nice":false,"zero":false},"axis":{"title":"vitesse des vents (m.s⁻¹)","values":[4,4.5,5,5.5,6,6.5,7,7.5,8,8.5,9,9.5,10,10.5,11,11.5,12,12.5,13,13.5,14,14.5,15,15.5,16,16.5,17,17.5,18,18.5,19,19.5,20],"format":"d","labelExpr":"datum.value % 1 === 0 ? datum.label : ''","tickSize":{"condition":{"test":"datum.value % 1 === 0","value":5},"value":3}}},
  "y":{"field":"y","type":"quantitative","scale":{"domain":[0,200],"nice":false},"axis":{"title":"D47 flux (g.m⁻².s⁻¹)","values":[0,10,20,30,40,50,60,70,80,90,100,110,120,130,140,150,160,170,180,190,200],"format":"d","labelExpr":"datum.value % 20 === 0 ? datum.label : ''","tickSize":{"condition":{"test":"datum.value % 20 === 0","value":5},"value":3}}}
 },
 "layer":[
  {"data":{"name":"pts"},"transform":[{"filter":"datum.ep == 1 && datum.s == 'Obs 0-2m'"}],"mark":{"type":"point","shape":"diamond","filled":false,"color":"#1a961a","size":144,"strokeWidth":1,"opacity":1,"clip":true}},
  {"data":{"name":"pts"},"transform":[{"filter":"datum.ep == 1 && datum.s == 'Obs 1-2m'"}],"mark":{"type":"point","shape":"M-1,0H1M0,-1V1","filled":false,"color":"#0000ff","size":160,"strokeWidth":1.1,"opacity":1,"clip":true}},
  {"data":{"name":"pts"},"transform":[{"filter":"datum.ep == 1 && datum.s == 'MAR 0-2m'"}],"mark":{"type":"point","shape":"square","filled":false,"color":"#ff0000","size":170,"strokeWidth":1,"opacity":1,"clip":true}},
  {"data":{"name":"byrd"},"mark":{"type":"point","shape":"diamond","filled":true,"color":"#000000","size":150,"opacity":1,"clip":true}}
 ]},
{"width":448,"height":237,"title":{"text":"épisode 2"},
 "encoding":{
  "x":{"field":"x","type":"quantitative","scale":{"domain":[8,24],"nice":false,"zero":false},"axis":{"title":"vitesse des vents (m.s⁻¹)","values":[8,9,10,11,12,13,14,15,16,17,18,19,20,21,22,23,24],"format":"d","labelExpr":"datum.value % 2 === 0 ? datum.label : ''","tickSize":{"condition":{"test":"datum.value % 2 === 0","value":5},"value":3}}},
  "y":{"field":"y","type":"quantitative","scale":{"domain":[0,300],"nice":false},"axis":{"title":"D47 flux (g.m⁻².s⁻¹)","values":[0,10,20,30,40,50,60,70,80,90,100,110,120,130,140,150,160,170,180,190,200,210,220,230,240,250,260,270,280,290,300],"format":"d","labelExpr":"datum.value % 50 === 0 ? datum.label : ''","tickSize":{"condition":{"test":"datum.value % 50 === 0","value":5},"value":3}}}
 },
 "layer":[
  {"data":{"name":"pts"},"transform":[{"filter":"datum.ep == 2 && datum.s == 'Obs 0-2m'"}],"mark":{"type":"point","shape":"diamond","filled":false,"color":"#1a961a","size":144,"strokeWidth":1,"opacity":1,"clip":true}},
  {"data":{"name":"pts"},"transform":[{"filter":"datum.ep == 2 && datum.s == 'Obs 1-2m'"}],"mark":{"type":"point","shape":"M-1,0H1M0,-1V1","filled":false,"color":"#0000ff","size":160,"strokeWidth":1.1,"opacity":1,"clip":true}},
  {"data":{"name":"pts"},"transform":[{"filter":"datum.ep == 2 && datum.s == 'MAR 0-2m'"}],"mark":{"type":"point","shape":"square","filled":false,"color":"#ff0000","size":170,"strokeWidth":1,"opacity":1,"clip":true}},
  {"data":{"name":"byrd"},"mark":{"type":"point","shape":"diamond","filled":true,"color":"#000000","size":150,"opacity":1,"clip":true}}
 ]},
{"width":449,"height":228,"title":{"text":"épisode 3"},
 "encoding":{
  "x":{"field":"x","type":"quantitative","scale":{"domain":[6,20],"nice":false,"zero":false},"axis":{"title":"vitesse des vents (m.s⁻¹)","values":[6,6.5,7,7.5,8,8.5,9,9.5,10,10.5,11,11.5,12,12.5,13,13.5,14,14.5,15,15.5,16,16.5,17,17.5,18,18.5,19,19.5,20],"format":"d","labelExpr":"datum.value % 1 === 0 ? datum.label : ''","tickSize":{"condition":{"test":"datum.value % 1 === 0","value":5},"value":3}}},
  "y":{"field":"y","type":"quantitative","scale":{"domain":[0,200],"nice":false},"axis":{"title":"D47 flux (g.m⁻².s⁻¹)","values":[0,10,20,30,40,50,60,70,80,90,100,110,120,130,140,150,160,170,180,190,200],"format":"d","labelExpr":"datum.value % 20 === 0 ? datum.label : ''","tickSize":{"condition":{"test":"datum.value % 20 === 0","value":5},"value":3}}}
 },
 "layer":[
  {"data":{"name":"pts"},"transform":[{"filter":"datum.ep == 3 && datum.s == 'Obs 0-2m'"}],"mark":{"type":"point","shape":"diamond","filled":false,"color":"#1a961a","size":144,"strokeWidth":1,"opacity":1,"clip":true}},
  {"data":{"name":"pts"},"transform":[{"filter":"datum.ep == 3 && datum.s == 'Obs 1-2m'"}],"mark":{"type":"point","shape":"M-1,0H1M0,-1V1","filled":false,"color":"#0000ff","size":160,"strokeWidth":1.1,"opacity":1,"clip":true}},
  {"data":{"name":"pts"},"transform":[{"filter":"datum.ep == 3 && datum.s == 'MAR 0-2m'"}],"mark":{"type":"point","shape":"square","filled":false,"color":"#ff0000","size":170,"strokeWidth":1,"opacity":1,"clip":true}},
  {"data":{"name":"byrd"},"mark":{"type":"point","shape":"diamond","filled":true,"color":"#000000","size":150,"opacity":1,"clip":true}}
 ]},
{"width":448,"height":228,"title":{"text":"épisode 4"},
 "encoding":{
  "x":{"field":"x","type":"quantitative","scale":{"domain":[8,22],"nice":false,"zero":false},"axis":{"title":"vitesse des vents (m.s⁻¹)","values":[8,8.5,9,9.5,10,10.5,11,11.5,12,12.5,13,13.5,14,14.5,15,15.5,16,16.5,17,17.5,18,18.5,19,19.5,20,20.5,21,21.5,22],"format":"d","labelExpr":"datum.value % 1 === 0 ? datum.label : ''","tickSize":{"condition":{"test":"datum.value % 1 === 0","value":5},"value":3}}},
  "y":{"field":"y","type":"quantitative","scale":{"domain":[0,400],"nice":false},"axis":{"title":"D47 flux (g.m⁻².s⁻¹)","values":[0,10,20,30,40,50,60,70,80,90,100,110,120,130,140,150,160,170,180,190,200,210,220,230,240,250,260,270,280,290,300,310,320,330,340,350,360,370,380,390,400],"format":"d","labelExpr":"datum.value % 50 === 0 ? datum.label : ''","tickSize":{"condition":{"test":"datum.value % 50 === 0","value":5},"value":3}}}
 },
 "layer":[
  {"data":{"name":"pts"},"transform":[{"filter":"datum.ep == 4 && datum.s == 'Obs 0-2m'"}],"mark":{"type":"point","filled":false,"size":144,"strokeWidth":1,"opacity":1,"clip":true},
   "encoding":{
    "stroke":{"field":"s","type":"nominal","scale":{"domain":["Obs 0-2m","Obs 1-2m","MAR 0-2m","projet Byrd 0-2m"],"range":["#1a961a","#0000ff","#ff0000","#000000"]},"legend":{"title":null,"orient":"none","legendX":603,"legendY":317,"strokeColor":"black","fillColor":"white","padding":7,"labelFont":"Liberation Serif","labelFontSize":18,"labelColor":"black","symbolSize":80,"symbolStrokeWidth":1,"rowPadding":3,"labelOffset":11,"labelLimit":300}},
    "fill":{"field":"s","type":"nominal","scale":{"domain":["Obs 0-2m","Obs 1-2m","MAR 0-2m","projet Byrd 0-2m"],"range":["transparent","transparent","transparent","#000000"]},"legend":{"title":null,"orient":"none","legendX":603,"legendY":317,"strokeColor":"black","fillColor":"white","padding":7,"labelFont":"Liberation Serif","labelFontSize":18,"labelColor":"black","symbolSize":80,"symbolStrokeWidth":1,"rowPadding":3,"labelOffset":11,"labelLimit":300}},
    "shape":{"field":"s","type":"nominal","scale":{"domain":["Obs 0-2m","Obs 1-2m","MAR 0-2m","projet Byrd 0-2m"],"range":["diamond","M-1,0H1M0,-1V1","square","diamond"]},"legend":{"title":null,"orient":"none","legendX":603,"legendY":317,"strokeColor":"black","fillColor":"white","padding":7,"labelFont":"Liberation Serif","labelFontSize":18,"labelColor":"black","symbolSize":80,"symbolStrokeWidth":1,"rowPadding":3,"labelOffset":11,"labelLimit":300}}
   }},
  {"data":{"name":"pts"},"transform":[{"filter":"datum.ep == 4 && datum.s == 'Obs 1-2m'"}],"mark":{"type":"point","shape":"M-1,0H1M0,-1V1","filled":false,"color":"#0000ff","size":160,"strokeWidth":1.1,"opacity":1,"clip":true}},
  {"data":{"name":"pts"},"transform":[{"filter":"datum.ep == 4 && datum.s == 'MAR 0-2m'"}],"mark":{"type":"point","shape":"square","filled":false,"color":"#ff0000","size":170,"strokeWidth":1,"opacity":1,"clip":true}},
  {"data":{"name":"byrd"},"mark":{"type":"point","shape":"diamond","filled":true,"color":"#000000","size":150,"opacity":1,"clip":true}}
 ]}
],
"config":{
 "view":{"stroke":null},
 "font":"Liberation Serif",
 "title":{"font":"Liberation Serif","fontSize":18,"fontWeight":"normal","color":"black","offset":4},
 "axis":{"labelFont":"DejaVu Sans","labelFontSize":13,"labelColor":"black","titleFont":"Liberation Serif","titleFontSize":18,"titleFontWeight":"normal","titleColor":"black","domainColor":"black","tickColor":"black","grid":false,"labelOverlap":false,"labelFlush":false,"labelPadding":2},
 "axisX":{"titlePadding":9},
 "axisY":{"titlePadding":8}
}
}
